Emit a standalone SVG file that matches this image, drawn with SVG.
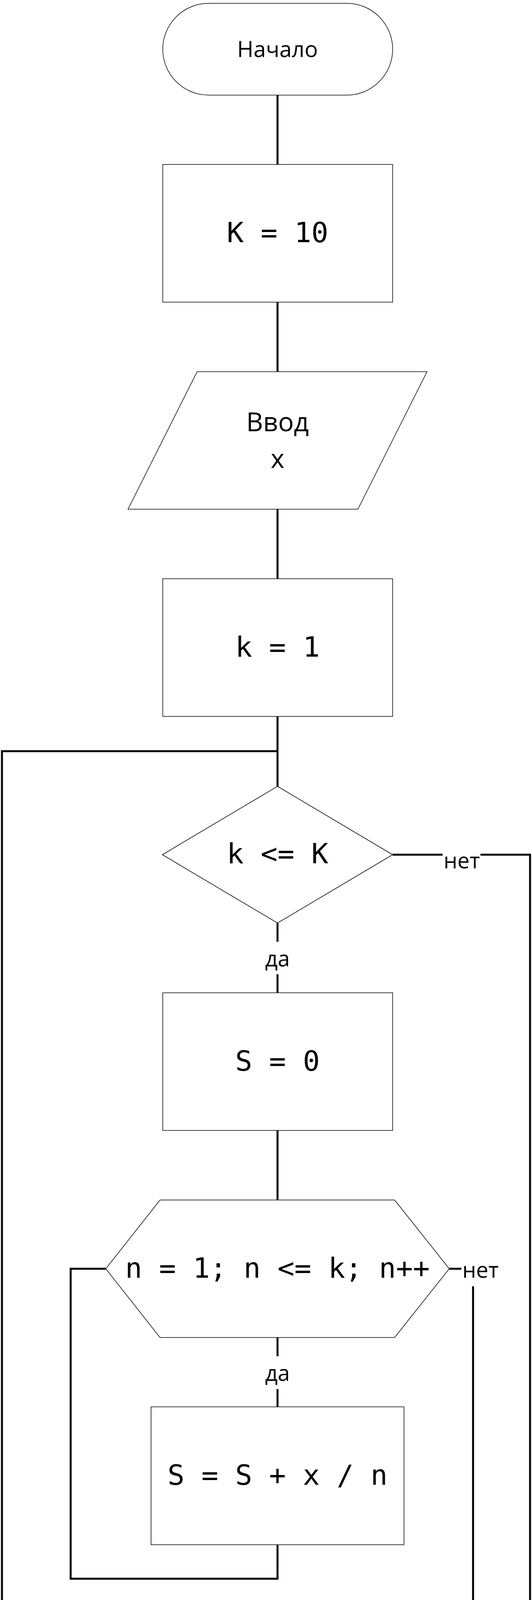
<svg xmlns="http://www.w3.org/2000/svg" width="1363" height="5569" viewBox="0 0 1363 5569">
<style>
.shape{fill:#fff;stroke:#000;stroke-width:1.5}
.conn{fill:none;stroke:#000;stroke-width:5;stroke-linejoin:miter;stroke-linecap:butt}
.sans{font-family:"Open Sans","Noto Sans","DejaVu Sans",sans-serif;fill:#000;text-anchor:middle}
.term{font-size:57px}
.io{font-size:67px}
.lbl{font-size:56px}
.mono{font-family:"DejaVu Sans Mono","Liberation Mono",monospace;font-size:72px;fill:#000;text-anchor:middle}
.str{fill:#a31515}
</style>
<rect width="1363" height="5569" fill="#fff"/>
<g id="connectors">
<path class="conn" d="M711 243.5V421"/>
<path class="conn" d="M711 773.5V951.5"/>
<path class="conn" d="M711 1303.5V1481.5"/>
<path class="conn" d="M711 1834V2013"/>
<path class="conn" d="M711 5014.5V5103H5V1923H711"/>
<path class="conn" d="M711 2363V2411"/>
<path class="conn" d="M711 2494V2541.5"/>
<path class="conn" d="M711 2894V3072"/>
<path class="conn" d="M711 3424V3472"/>
<path class="conn" d="M711 3556V3601.5"/>
<path class="conn" d="M711 3954.5V4041.5H181V3248H271"/>
<path class="conn" d="M1151 3248H1182"/>
<path class="conn" d="M1212 3293V4117H711V4206"/>
<path class="conn" d="M711 4558V4660.5"/>
<path class="conn" d="M1006 2188H1134"/>
<path class="conn" d="M1231 2188H1358V5237H711V5326"/>
<text class="sans lbl" x="1183" y="2223">нет</text>
<text class="sans lbl" x="711" y="2474">да</text>
<text class="sans lbl" x="1231" y="3271">нет</text>
<text class="sans lbl" x="711" y="3535">да</text>
</g>
<g id="start">
<rect class="shape" x="417" y="8.5" width="589" height="235" rx="117.5" ry="117.5"/>
<text class="sans term" x="711" y="146">Начало</text>
</g>
<g id="initK">
<rect class="shape" x="417" y="421" width="589" height="352.5"/>
<text class="mono" x="711" y="620">K = 10</text>
</g>
<g id="inputX">
<polygon class="shape" points="505,951.5 1094,951.5 917,1303.5 328,1303.5"/>
<text class="sans io" x="711" y="1104">Ввод</text>
<text class="sans io" x="711" y="1198">x</text>
</g>
<g id="initk">
<rect class="shape" x="417" y="1481.5" width="589" height="352.5"/>
<text class="mono" x="711" y="1681">k = 1</text>
</g>
<g id="condK">
<polygon class="shape" points="711,2013 1006,2188 711,2363 416,2188"/>
<text class="mono" x="711" y="2210">k &lt;= K</text>
</g>
<g id="initS">
<rect class="shape" x="417" y="2541.5" width="589" height="352.5"/>
<text class="mono" x="711" y="2741">S = 0</text>
</g>
<g id="loopN">
<polygon class="shape" points="410,3072 1011,3072 1151,3248 1011,3424 410,3424 271,3248"/>
<text class="mono" x="711" y="3271">n = 1; n &lt;= k; n++</text>
</g>
<g id="sumS">
<rect class="shape" x="387" y="3601.5" width="648" height="353"/>
<text class="mono" x="711" y="3801">S = S + x / n</text>
</g>
<g id="output">
<polygon class="shape" points="298,4206 1300,4206 1124,4558 122,4558"/>
<text class="sans io" x="711" y="4362">Вывод</text>
<text class="mono" x="711" y="4454" xml:space="preserve"><tspan class="str">Для k=</tspan>k<tspan class="str"> сумма = </tspan>S<tspan class="str">\n</tspan></text>
</g>
<g id="incK">
<rect class="shape" x="417" y="4660.5" width="589" height="354"/>
<text class="mono" x="711" y="4862">k = k + 1</text>
</g>
<g id="end">
<rect class="shape" x="417" y="5326" width="589" height="234" rx="117" ry="117"/>
<text class="sans term" x="711" y="5464">Конец</text>
</g>
</svg>
